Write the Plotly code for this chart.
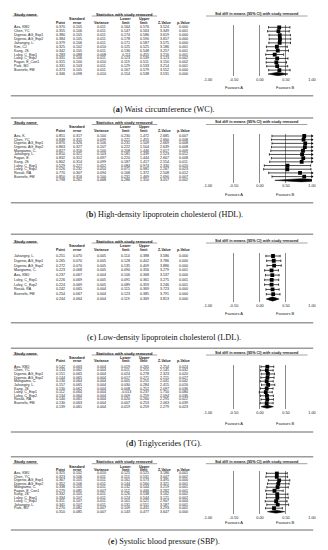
import plotly.graph_objects as go

W, H = 328, 550

# ---------------- data ----------------
wc_study = ["Aza, KMJ", "Chen, YC", "Digenio, AG_Exp1", "Digenio, AG_Exp2", "Jahangiry, L.", "Kim, CJ",
            "Kang, JS", "Luley, C_Exp1", "Luley, C_Exp2", "Fagan, E_Con1", "Park, MJ", "Buenefo, FM", ""]
wc_point = [0.370, 0.355, 0.380, 0.384, 0.379, 0.325, 0.342, 0.283, 0.331, 0.315, 0.331, 0.373, 0.346]
wc_se = [0.105, 0.106, 0.105, 0.105, 0.106, 0.102, 0.105, 0.088, 0.106, 0.100, 0.103, 0.105, 0.098]
wc_var = [0.011, 0.011, 0.011, 0.011, 0.011, 0.010, 0.011, 0.008, 0.011, 0.010, 0.011, 0.011, 0.010]
wc_lower = [0.164, 0.147, 0.174, 0.178, 0.171, 0.125, 0.136, 0.111, 0.123, 0.119, 0.129, 0.167, 0.154]
wc_upper = [0.576, 0.563, 0.586, 0.590, 0.587, 0.525, 0.548, 0.455, 0.539, 0.511, 0.533, 0.579, 0.538]
wc_z = [3.524, 3.349, 3.619, 3.657, 3.575, 3.186, 3.257, 3.216, 3.123, 3.150, 3.214, 3.552, 3.531]
wc_p = [0.000, 0.001, 0.000, 0.000, 0.000, 0.001, 0.001, 0.001, 0.002, 0.002, 0.001, 0.000, 0.000]

hdl_study = ["Aza, K.", "Chen, YC", "Digenio, AG_Exp1", "Digenio, AG_Exp2", "Mangiamo, C.", "Jahangiry, L.",
             "Fagan, E.", "Kang, JS", "Luley, C_Exp1", "Luley, C_Exp2", "Rosak, RA", "Buenefo, FM", ""]
hdl_point = [0.851, 0.838, 0.870, 0.863, 0.827, 0.810, 0.832, 0.802, 0.529, 0.526, 0.770, 0.850, 0.798]
hdl_se = [0.317, 0.315, 0.326, 0.327, 0.316, 0.321, 0.312, 0.314, 0.227, 0.232, 0.307, 0.316, 0.261]
hdl_var = [0.100, 0.099, 0.106, 0.107, 0.100, 0.103, 0.097, 0.099, 0.052, 0.054, 0.094, 0.100, 0.068]
hdl_lower = [0.230, 0.221, 0.231, 0.222, 0.208, 0.181, 0.220, 0.187, 0.084, 0.071, 0.168, 0.231, 0.286]
hdl_upper = [1.472, 1.455, 1.509, 1.504, 1.446, 1.439, 1.444, 1.417, 0.974, 0.981, 1.372, 1.469, 1.310]
hdl_z = [2.685, 2.660, 2.669, 2.639, 2.617, 2.523, 2.667, 2.554, 2.330, 2.267, 2.508, 2.690, 3.057]
hdl_p = [0.007, 0.008, 0.008, 0.008, 0.009, 0.012, 0.008, 0.011, 0.020, 0.023, 0.012, 0.007, 0.002]

ldl_study = ["Jahangiry, L.", "Digenio, AG_Exp1", "Digenio, AG_Exp2", "Mangiamo, C.", "Aza, KMJ",
             "Luley, C_Exp1", "Luley, C_Exp2", "Rosak, RA", "Buenefo, FM", ""]
ldl_point = [0.251, 0.265, 0.272, 0.223, 0.237, 0.226, 0.224, 0.242, 0.254, 0.244]
ldl_se = [0.070, 0.070, 0.070, 0.068, 0.067, 0.069, 0.069, 0.065, 0.067, 0.064]
ldl_var = [0.005, 0.005, 0.005, 0.005, 0.004, 0.005, 0.005, 0.004, 0.004, 0.004]
ldl_lower = [0.114, 0.128, 0.135, 0.090, 0.106, 0.091, 0.089, 0.115, 0.123, 0.119]
ldl_upper = [0.388, 0.402, 0.409, 0.356, 0.368, 0.361, 0.359, 0.369, 0.385, 0.369]
ldl_z = [3.586, 3.786, 3.886, 3.279, 3.537, 3.275, 3.246, 3.723, 3.791, 3.813]
ldl_p = [0.000, 0.000, 0.000, 0.001, 0.000, 0.001, 0.001, 0.000, 0.000, 0.000]

tg_study = ["Aza, KMJ", "Chen, YC", "Digenio, AG_Exp1", "Digenio, AG_Exp2", "Mangiamo, C.", "Jahangiry, L.",
            "Kang, JS", "Luley, C_Exp1", "Luley, C_Exp2", "Rosak, RA", "Buenefo, FM", ""]
tg_point = [0.142, 0.133, 0.151, 0.144, 0.130, 0.157, 0.130, 0.112, 0.134, 0.140, 0.130, 0.139]
tg_se = [0.063, 0.062, 0.065, 0.065, 0.064, 0.065, 0.062, 0.064, 0.064, 0.061, 0.063, 0.061]
tg_var = [0.004, 0.004, 0.004, 0.004, 0.004, 0.004, 0.004, 0.004, 0.004, 0.004, 0.004, 0.004]
tg_lower = [0.019, 0.011, 0.024, 0.017, 0.005, 0.030, 0.008, -0.013, 0.009, 0.020, 0.007, 0.019]
tg_upper = [0.265, 0.255, 0.278, 0.271, 0.255, 0.284, 0.252, 0.237, 0.259, 0.260, 0.253, 0.259]
tg_z = [2.254, 2.145, 2.323, 2.215, 2.031, 2.415, 2.097, 1.750, 2.094, 2.295, 2.063, 2.279]
tg_p = [0.024, 0.032, 0.020, 0.027, 0.042, 0.016, 0.036, 0.080, 0.036, 0.022, 0.039, 0.023]

sbp_study = ["Aza, KMJ", "Chen, YC", "Digenio, AG_Exp1", "Digenio, AG_Exp2", "Mangiamo, C.", "Fagan, E_Con1",
             "Kang, JS", "Luley, C_Exp1", "Luley, C_Exp2", "Jahangiry, L.", "Park, MJ", ""]
sbp_point = [0.325, 0.323, 0.367, 0.352, 0.338, 0.279, 0.332, 0.334, 0.311, 0.341, 0.270, 0.310]
sbp_se = [0.102, 0.106, 0.105, 0.106, 0.105, 0.085, 0.105, 0.107, 0.107, 0.107, 0.082, 0.085]
sbp_var = [0.010, 0.011, 0.011, 0.011, 0.011, 0.007, 0.011, 0.011, 0.011, 0.011, 0.007, 0.007]
sbp_lower = [0.125, 0.115, 0.161, 0.144, 0.132, 0.112, 0.126, 0.124, 0.101, 0.131, 0.109, 0.143]
sbp_upper = [0.525, 0.531, 0.573, 0.560, 0.544, 0.446, 0.538, 0.544, 0.521, 0.551, 0.431, 0.477]
sbp_z = [3.186, 3.047, 3.495, 3.321, 3.219, 3.282, 3.162, 3.121, 2.907, 3.187, 3.293, 3.647]
sbp_p = [0.001, 0.002, 0.000, 0.001, 0.001, 0.001, 0.002, 0.002, 0.004, 0.001, 0.001, 0.000]

tick_vals = [-1.0, -0.5, 0.0, 0.5, 1.0]
tick_text = ["-1.00", "-0.50", "0.00", "0.50", "1.00"]

captions = ["(<b>a</b>) Waist circumference (WC).",
            "(<b>b</b>) High-density lipoprotein cholesterol (HDL).",
            "(<b>c</b>) Low-density lipoprotein cholesterol (LDL).",
            "(<b>d</b>) Triglycerides (TG).",
            "(<b>e</b>) Systolic blood pressure (SBP)."]

data_sets = [
    (wc_study, wc_point, wc_se, wc_var, wc_lower, wc_upper, wc_z, wc_p),
    (hdl_study, hdl_point, hdl_se, hdl_var, hdl_lower, hdl_upper, hdl_z, hdl_p),
    (ldl_study, ldl_point, ldl_se, ldl_var, ldl_lower, ldl_upper, ldl_z, ldl_p),
    (tg_study, tg_point, tg_se, tg_var, tg_lower, tg_upper, tg_z, tg_p),
    (sbp_study, sbp_point, sbp_se, sbp_var, sbp_lower, sbp_upper, sbp_z, sbp_p),
]

# ---------------- layout geometry (pixels) ----------------
geom = [
    dict(top=None, hdr=14, c1=19.3, c2=22.7, r0=27.3, r1=74.0, tick=79.0, fav=87.0, bot=95.7, cap=109.0),
    dict(top=118.0, hdr=122.5, c1=127.0, c2=130.5, r0=136.0, r1=180.3, tick=188.5, fav=195.0, bot=202.7, cap=215.0),
    dict(top=234.3, hdr=241.0, c1=246.0, c2=249.5, r0=256.0, r1=299.0, tick=305.0, fav=313.5, bot=322.7, cap=337.0),
    dict(top=348.3, hdr=353.0, c1=357.7, c2=360.8, r0=366.7, r1=406.7, tick=415.0, fav=423.3, bot=432.0, cap=443.3),
    dict(top=456.7, hdr=461.7, c1=466.5, c2=469.5, r0=473.3, r1=511.7, tick=515.0, fav=522.0, bot=530.0, cap=541.5),
]

FX0, FX1 = 209.0, 315.7          # forest plot x extent (px)
COLS = [58, 75, 100, 125, 144, 165, 184]   # value column centres (px)
NAME_X = 9
SANS = "Liberation Sans, Arial, sans-serif"
SERIF = "Liberation Serif, Times New Roman, serif"
TXT = "#222222"
RULE = "#9b9b9b"
ROWF = 3.6


def px(x):
    return x / W


def py(y):
    return 1 - y / H


fig = go.Figure()
annotations = []
shapes = []


def note(x, y, s, size=ROWF, xanchor="center", family=SANS, color=TXT):
    annotations.append(dict(x=px(x), y=py(y), xref="paper", yref="paper", text=s, showarrow=False,
                            xanchor=xanchor, yanchor="middle", borderpad=0,
                            font=dict(size=size, family=family, color=color)))


def hline(x0, x1, y, color=RULE, width=1.5):
    shapes.append(dict(type="line", xref="paper", yref="paper", x0=px(x0), x1=px(x1),
                       y0=py(y), y1=py(y), line=dict(color=color, width=width)))


for k, (ds, g, cap) in enumerate(zip(data_sets, geom, captions)):
    study, point, se, var, lower, upper, zval, pval = ds
    n = len(study)
    dy = (g["r1"] - g["r0"]) / (n - 1)

    # rules and caption
    if g["top"] is not None:
        hline(7, 317, g["top"])
    hline(7, 317, g["bot"])
    note(164, g["cap"], cap, size=8.2, family=SERIF, color="#111")

    # headers
    note(NAME_X, g["hdr"], "<b>Study name</b>", size=4.0, xanchor="left")
    hline(NAME_X, 35, g["hdr"] + 2.0, color="#444", width=0.5)
    note(123.5, g["hdr"], "<b>Statistics with study removed</b>", size=4.0)
    hline(90, 157, g["hdr"] + 2.0, color="#444", width=0.5)
    note(259, g["hdr"], "<b>Std diff in means (95% CI) with study removed</b>", size=3.8)
    hline(207, 311, g["hdr"] + 2.0, color="#444", width=0.5)

    note(COLS[0], g["c2"], "<b>Point</b>")
    note(COLS[1], g["c1"], "<b>Standard</b>")
    note(COLS[1], g["c2"], "<b>error</b>")
    note(COLS[2], g["c2"], "<b>Variance</b>")
    note(COLS[3], g["c1"], "<b>Lower</b>")
    note(COLS[3], g["c2"], "<b>limit</b>")
    note(COLS[4], g["c1"], "<b>Upper</b>")
    note(COLS[4], g["c2"], "<b>limit</b>")
    note(COLS[5], g["c2"], "<b>Z-Value</b>")
    note(COLS[6], g["c2"], "<b>p-Value</b>")

    # table rows
    for i in range(n):
        y = g["r0"] + i * dy
        if study[i]:
            note(NAME_X, y, study[i], xanchor="left")
        for cx, v in zip(COLS, (point[i], se[i], var[i], lower[i], upper[i], zval[i], pval[i])):
            note(cx, y, f"{v:.3f}")

    # forest axes
    xname = "xaxis" if k == 0 else f"xaxis{k + 1}"
    yname = "yaxis" if k == 0 else f"yaxis{k + 1}"
    xid = "x" if k == 0 else f"x{k + 1}"
    yid = "y" if k == 0 else f"y{k + 1}"
    pad = 0.6
    ytop_px = g["r0"] - pad * dy
    ybot_px = g["r1"] + pad * dy
    fig.update_layout(**{
        xname: dict(domain=[px(FX0), px(FX1)], range=[-1, 1], anchor=yid,
                    tickvals=tick_vals, ticktext=tick_text, ticks="", showline=False,
                    showgrid=True, gridcolor="#8a8a8a", gridwidth=0.6, zeroline=False,
                    tickfont=dict(size=3.8, family=SANS, color=TXT), fixedrange=True),
        yname: dict(domain=[py(ybot_px), py(ytop_px)], range=[n - 1 + pad, -pad], anchor=xid,
                    visible=False, showgrid=False, zeroline=False, fixedrange=True),
    })

    rows = list(range(n - 1))
    fig.add_trace(go.Scatter(
        x=point[:-1], y=rows, xaxis=xid, yaxis=yid, mode="markers",
        marker=dict(symbol="square", size=3.8, color="black"),
        error_x=dict(type="data", symmetric=False,
                     array=[u - p for u, p in zip(upper[:-1], point[:-1])],
                     arrayminus=[p - l for p, l in zip(point[:-1], lower[:-1])],
                     color="black", thickness=0.7, width=1.2),
        showlegend=False, hoverinfo="skip"))

    # arrows where CI exceeds axis
    ar_rows = [r for r in rows if upper[r] > 1]
    if ar_rows:
        fig.add_trace(go.Scatter(
            x=[1] * len(ar_rows), y=ar_rows, xaxis=xid, yaxis=yid, mode="markers",
            marker=dict(symbol="triangle-right", size=3, color="black"),
            cliponaxis=False, showlegend=False, hoverinfo="skip"))

    # overall diamond
    r = n - 1
    fig.add_trace(go.Scatter(
        x=[lower[r], point[r], upper[r], point[r], lower[r]],
        y=[r, r - 0.45, r, r + 0.45, r], xaxis=xid, yaxis=yid,
        mode="lines", fill="toself", fillcolor="black", line=dict(color="black", width=0.5),
        showlegend=False, hoverinfo="skip"))

    # favours labels
    for xv, lab in ((-0.5, "Favours A"), (0.5, "Favours B")):
        annotations.append(dict(x=xv, y=py(g["fav"]), xref=xid, yref="paper", text=lab,
                                showarrow=False, xanchor="center", yanchor="middle", borderpad=0,
                                font=dict(size=4.0, family=SANS, color=TXT)))

fig.update_layout(width=W, height=H, margin=dict(l=0, r=0, t=0, b=0),
                  paper_bgcolor="white", plot_bgcolor="white",
                  annotations=annotations, shapes=shapes, showlegend=False)

fig.write_html("out.html", config={"displayModeBar": False},
               post_script="document.body.style.margin='0';document.body.style.overflow='hidden';")
